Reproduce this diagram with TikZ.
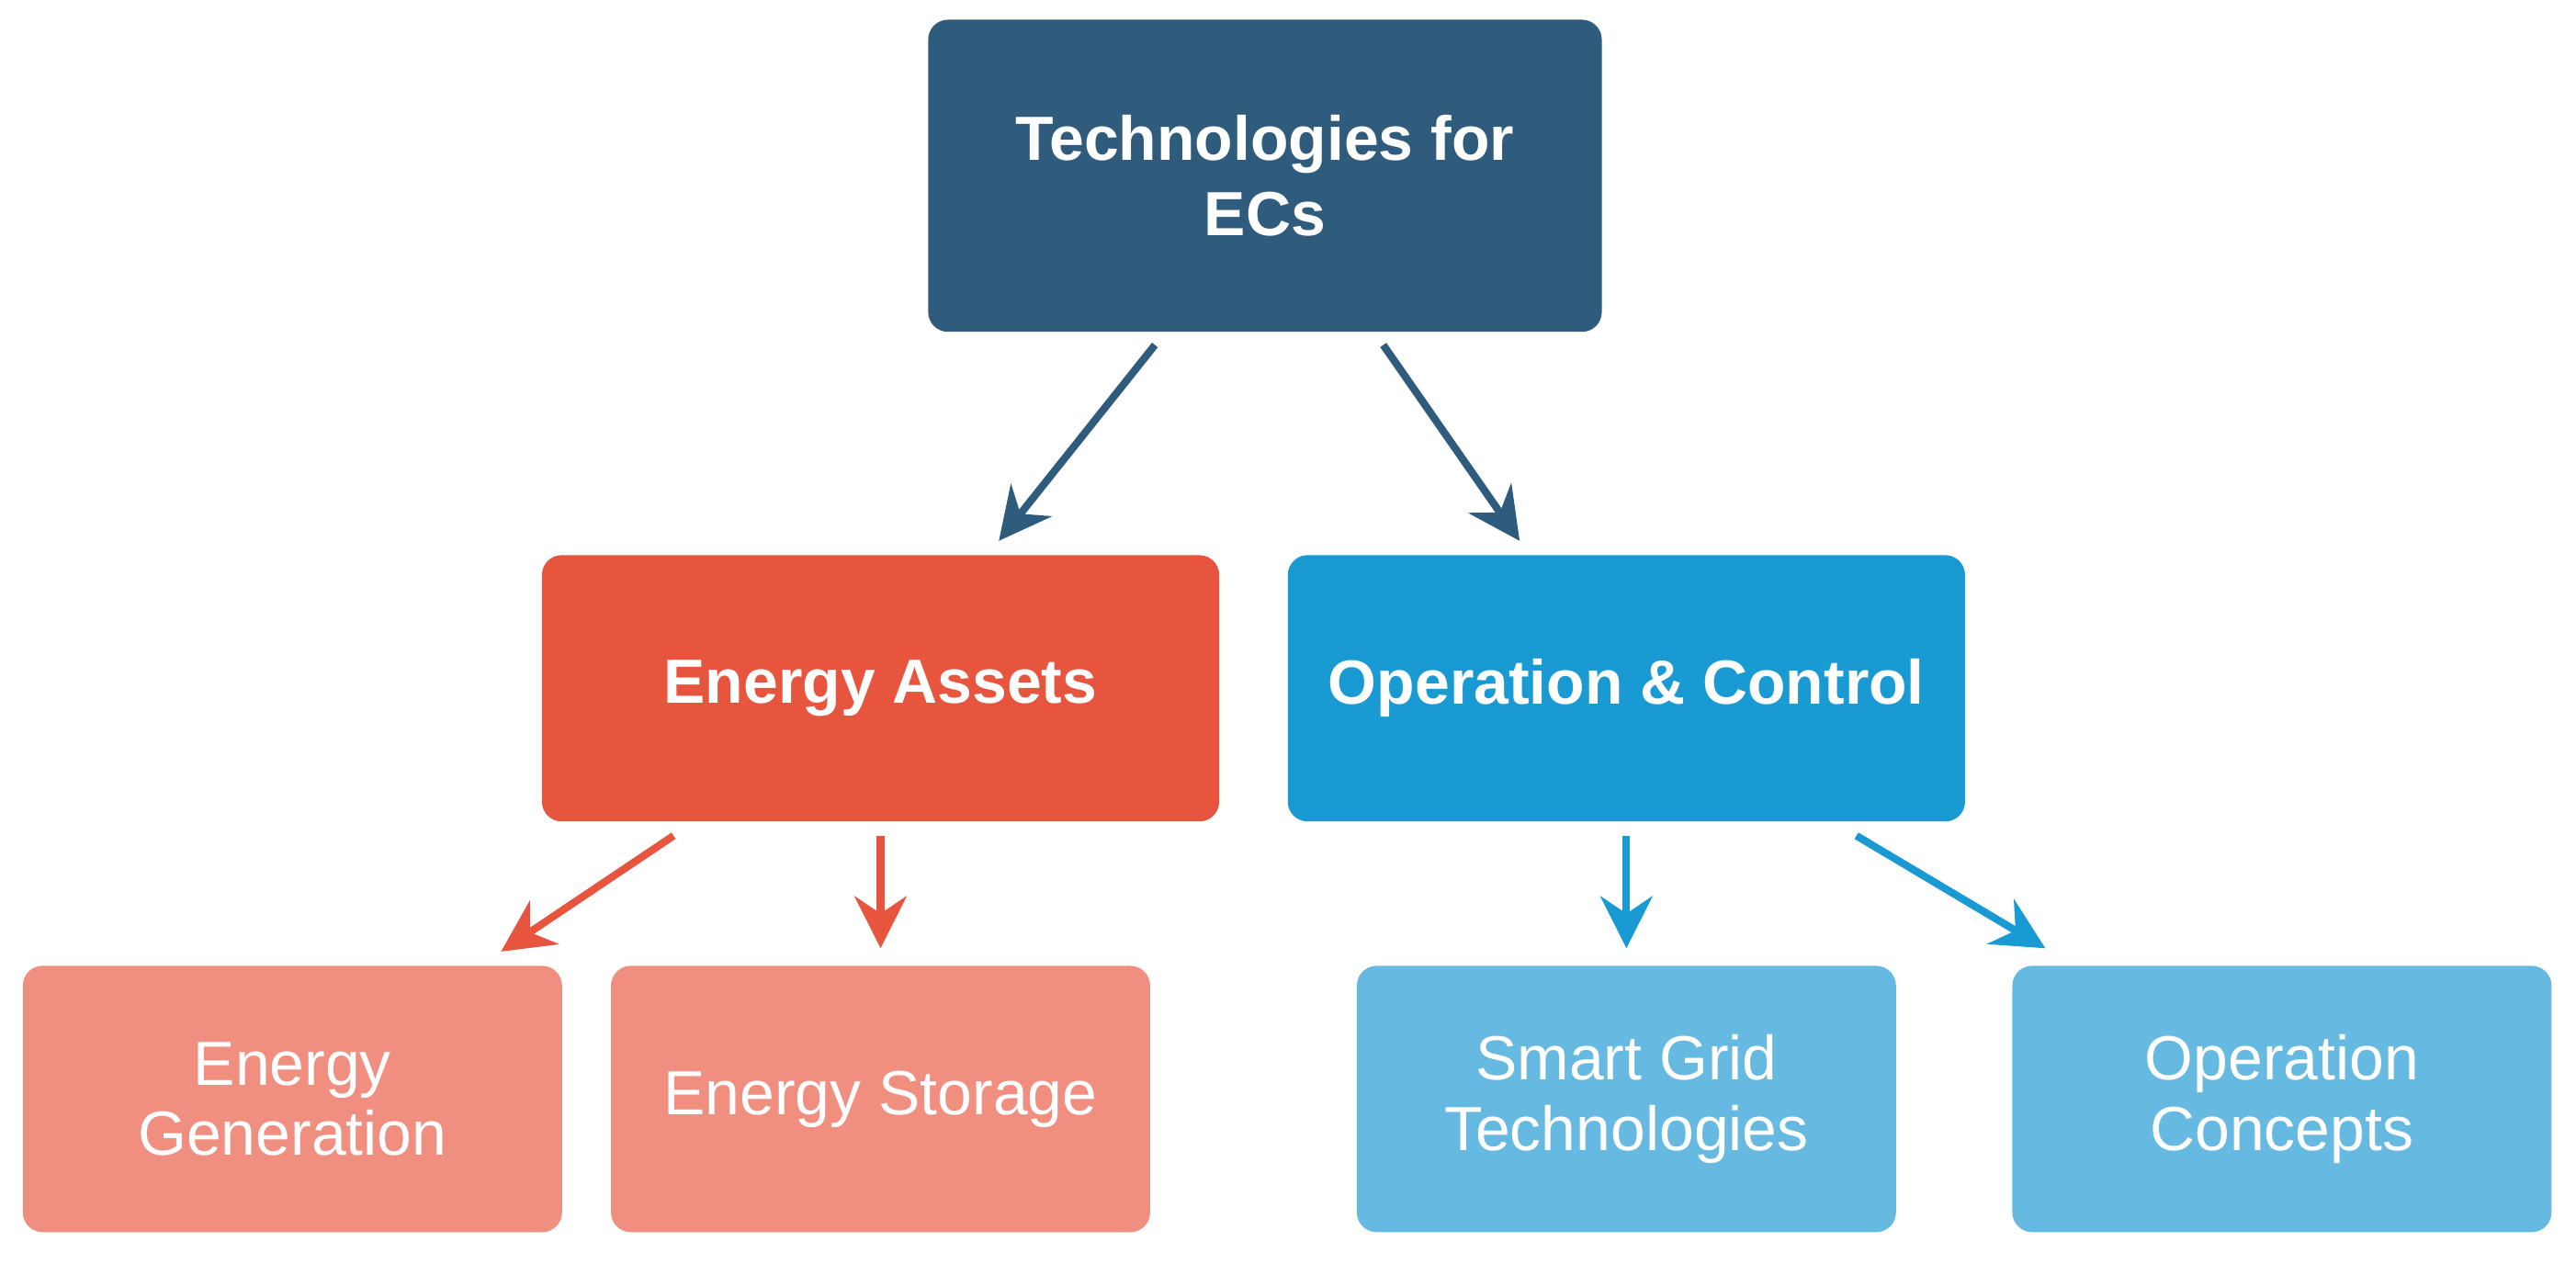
\documentclass[tikz,border=0pt]{standalone}
\usepackage{fontspec}
\setmainfont{Liberation Sans}
\usetikzlibrary{calc,arrows.meta}
\definecolor{cTop}{HTML}{2F5B7C}
\definecolor{cEA}{HTML}{E8553F}
\definecolor{cOC}{HTML}{1A9AD3}
\definecolor{cEAl}{HTML}{F08E80}
\definecolor{cOCl}{HTML}{66BAE2}
\begin{document}
\begin{tikzpicture}[x=0.01cm,y=-0.01cm,
  box/.style={rounded corners=1.2mm, text=white, align=center, inner sep=0pt},
  bigbox/.style={box, font=\fontsize{10.8}{13}\selectfont\bfseries},
  smallbox/.style={box, font=\fontsize{10.8}{12.2}\selectfont},
  arr/.style={line width=1.3pt, -{Stealth[length=9pt,width=9pt,inset=3pt]}}]
\useasboundingbox (0,0) rectangle (1568,769);
\fill[cTop,rounded corners=1.2mm] (565,12) rectangle (975,202);
\node[bigbox] (top) at (770,107) {Technologies for\\ECs};
\path (565,12) coordinate (tnw) (975,202) coordinate (tse);
\node[bigbox, fill=cEA, minimum width=4.12cm, minimum height=1.62cm] (ea) at (536,419) {Energy Assets};
\node[bigbox, fill=cOC, minimum width=4.12cm, minimum height=1.62cm] (oc) at (990,419) {Operation \& Control};
\node[smallbox, fill=cEAl, minimum width=3.28cm, minimum height=1.62cm] (eg) at (178,669) {Energy\\Generation};
\node[smallbox, fill=cEAl, minimum width=3.28cm, minimum height=1.62cm] (es) at (536,669) {Energy Storage};
\node[smallbox, fill=cOCl, minimum width=3.28cm, minimum height=1.62cm] (sg) at (990,669) {Smart Grid\\Technologies};
\node[smallbox, fill=cOCl, minimum width=3.28cm, minimum height=1.62cm] (opc) at (1389,669) {Operation\\Concepts};
\coordinate (ts) at (770,202);
\draw[arr,cTop] ($(ts)+(-67,8)$) -- ($(ea.north)+(72,-8)$);
\draw[arr,cTop] ($(ts)+(72,8)$) -- ($(oc.north)+(-65,-8)$);
\draw[arr,cEA] ($(ea.south)+(-126,8)$) -- ($(eg.north)+(127,-8)$);
\draw[arr,cEA] ($(ea.south)+(0,8)$) -- ($(es.north)+(0,-10)$);
\draw[arr,cOC] ($(oc.south)+(0,8)$) -- ($(sg.north)+(0,-10)$);
\draw[arr,cOC] ($(oc.south)+(140,8)$) -- ($(opc.north)+(-144,-10)$);
\end{tikzpicture}
\end{document}
